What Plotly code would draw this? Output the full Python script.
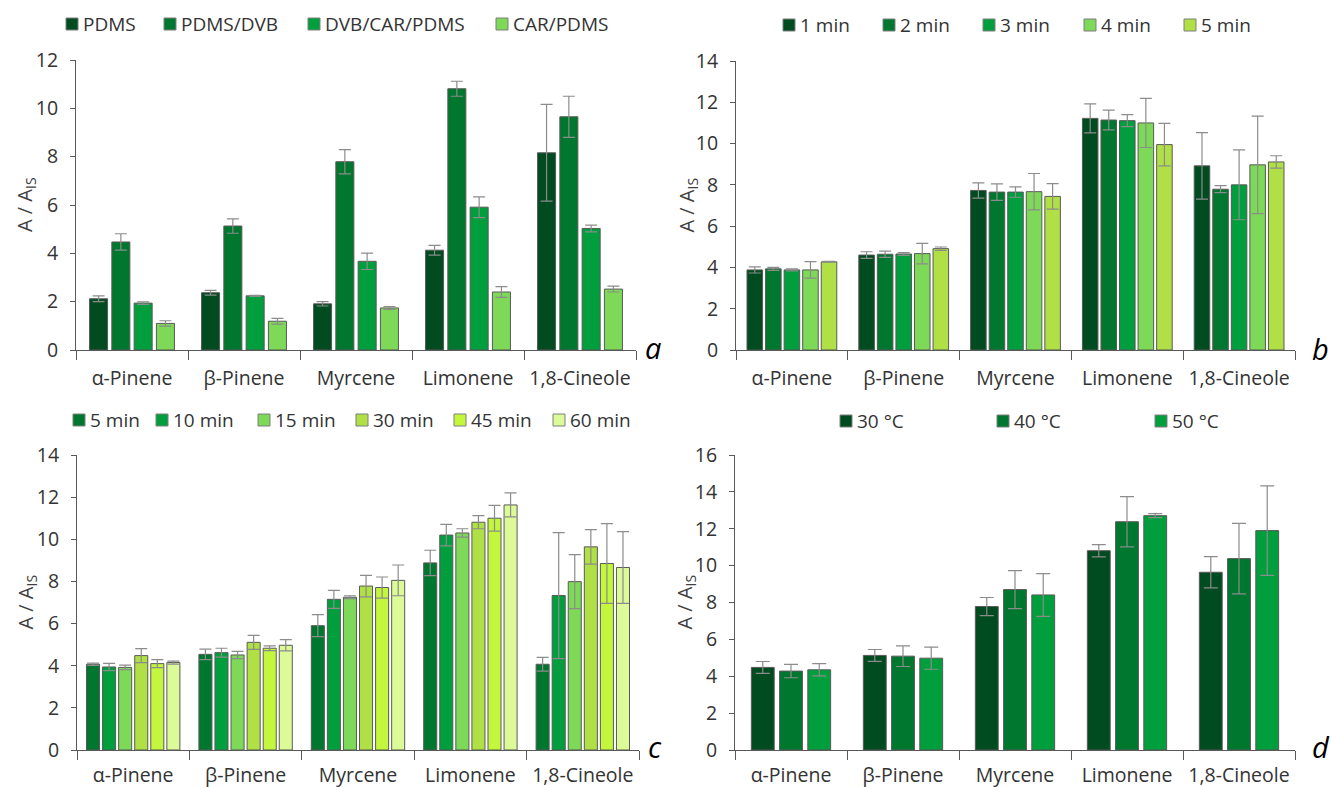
import plotly.graph_objects as go

# ---------------------------------------------------------------- data
compounds = ["α-Pinene", "β-Pinene", "Myrcene", "Limonene", "1,8-Cineole"]

# (a) fibre coating
fibres = ["PDMS", "PDMS/DVB", "DVB/CAR/PDMS", "CAR/PDMS"]
fibre_mean = [
    [2.12, 2.37, 1.91, 4.13, 8.16],
    [4.47, 5.13, 7.79, 10.81, 9.65],
    [1.94, 2.24, 3.67, 5.91, 5.03],
    [1.10, 1.19, 1.74, 2.40, 2.52],
]
fibre_sd = [
    [0.12, 0.10, 0.09, 0.20, 2.00],
    [0.34, 0.30, 0.50, 0.31, 0.85],
    [0.05, 0.02, 0.34, 0.43, 0.14],
    [0.11, 0.12, 0.06, 0.22, 0.12],
]

# (b) equilibration time
equil = ["1 min", "2 min", "3 min", "4 min", "5 min"]
equil_mean = [
    [3.88, 4.60, 7.73, 11.22, 8.92],
    [3.93, 4.64, 7.65, 11.14, 7.79],
    [3.88, 4.65, 7.65, 11.11, 8.00],
    [3.88, 4.67, 7.67, 11.00, 8.97],
    [4.27, 4.91, 7.44, 9.95, 9.11],
]
equil_sd = [
    [0.15, 0.16, 0.37, 0.70, 1.61],
    [0.07, 0.15, 0.40, 0.48, 0.17],
    [0.05, 0.07, 0.25, 0.29, 1.69],
    [0.40, 0.50, 0.88, 1.19, 2.36],
    [0.02, 0.08, 0.62, 1.03, 0.30],
]

# (c) extraction time
extr = ["5 min", "10 min", "15 min", "30 min", "45 min", "60 min"]
extr_mean = [
    [4.07, 4.54, 5.90, 8.88, 4.07],
    [3.94, 4.62, 7.15, 10.20, 7.33],
    [3.92, 4.51, 7.25, 10.30, 7.99],
    [4.48, 5.11, 7.78, 10.81, 9.64],
    [4.10, 4.83, 7.71, 11.00, 8.85],
    [4.15, 4.97, 8.05, 11.63, 8.66],
]
extr_sd = [
    [0.05, 0.25, 0.52, 0.60, 0.33],
    [0.17, 0.21, 0.43, 0.51, 2.99],
    [0.11, 0.17, 0.07, 0.20, 1.28],
    [0.33, 0.33, 0.51, 0.31, 0.82],
    [0.19, 0.11, 0.50, 0.61, 1.89],
    [0.07, 0.27, 0.73, 0.57, 1.70],
]

# (d) extraction temperature
temps = ["30 °C", "40 °C", "50 °C"]
temp_mean = [
    [4.48, 5.13, 7.78, 10.81, 9.64],
    [4.28, 5.09, 8.70, 12.38, 10.38],
    [4.35, 4.98, 8.41, 12.71, 11.90],
]
temp_sd = [
    [0.32, 0.32, 0.49, 0.33, 0.85],
    [0.36, 0.56, 1.03, 1.36, 1.91],
    [0.33, 0.60, 1.16, 0.11, 2.43],
]

y_max = [12, 14, 14, 16]

# ---------------------------------------------------------------- styling
W, H = 1331, 787
FONT = "Open Sans"
TXT = "#333333"
LINE = "#595959"
ERR = "#8c8c8c"
AXIS_FS = 19.5
LEG_FS = 19

C_DARK = "#004b1f"
C_MID = "#00772f"
C_GREEN = "#009e3c"
C_LIGHT = "#7dd957"
C_OLIVE = "#b0e045"
C_LIME = "#c3f63c"
C_PALE = "#dcfa97"

panels = [
    dict(key="", names=fibres, mean=fibre_mean, sd=fibre_sd,
         colors=[C_DARK, C_MID, C_GREEN, C_LIGHT],
         box=(76, 636, 60, 350), slot=0.199, bw=0.161, cap=6, letter="a",
         letter_xy=(653, 347), title_x=26, xstand=11,
         legend_x=[66, 164, 308, 496], legend_y=24),
    dict(key="2", names=equil, mean=equil_mean, sd=equil_sd,
         colors=[C_DARK, C_MID, C_GREEN, C_LIGHT, C_OLIVE],
         box=(736, 1295, 61, 350), slot=0.166, bw=0.139, cap=6, letter="b",
         letter_xy=(1320, 349), title_x=687, xstand=11,
         legend_x=[783, 883, 983, 1084, 1184], legend_y=25),
    dict(key="3", names=extr, mean=extr_mean, sd=extr_sd,
         colors=[C_MID, C_GREEN, C_LIGHT, C_OLIVE, C_LIME, C_PALE],
         box=(77, 639, 455, 750), slot=0.143, bw=0.116, cap=6, letter="c",
         letter_xy=(655, 746), title_x=26, xstand=8,
         legend_x=[73, 156, 258, 356, 454, 553], legend_y=420),
    dict(key="4", names=temps, mean=temp_mean, sd=temp_sd,
         colors=[C_DARK, C_MID, C_GREEN],
         box=(735, 1295, 455, 750), slot=0.252, bw=0.204, cap=7, letter="d",
         letter_xy=(1321, 746), title_x=685, xstand=8,
         legend_x=[840, 997, 1155], legend_y=421),
]


def fx(p):
    return p / W


def fy(p):
    return 1 - p / H


fig = go.Figure()
shapes = []
annotations = []
layout_axes = {}

for i, pnl in enumerate(panels):
    k = pnl["key"]
    n = len(pnl["names"])
    x0, x1, ytop, ybot = pnl["box"]
    for j, name in enumerate(pnl["names"]):
        offset = -n * pnl["slot"] / 2 + j * pnl["slot"] + (pnl["slot"] - pnl["bw"]) / 2
        fig.add_trace(go.Bar(
            x=compounds, y=pnl["mean"][j], name=name,
            xaxis="x" + k, yaxis="y" + k,
            width=pnl["bw"], offset=offset,
            marker=dict(color=pnl["colors"][j], line=dict(color=LINE, width=1)),
            error_y=dict(type="data", array=pnl["sd"][j], symmetric=True,
                         color=ERR, thickness=1.2, width=pnl["cap"]),
            showlegend=False,
        ))

    layout_axes["xaxis" + k] = dict(
        domain=[fx(x0), fx(x1)], anchor="y" + k, type="category",
        range=[-0.5, 4.5], showline=True, linecolor=LINE, linewidth=1,
        ticks="outside", tickson="boundaries", ticklen=9, tickcolor=LINE,
        tickangle=0,
        tickfont=dict(family=FONT, size=AXIS_FS, color=TXT),
        ticklabelstandoff=pnl["xstand"], showgrid=False, zeroline=False,
        fixedrange=True, automargin=False,
    )
    layout_axes["yaxis" + k] = dict(
        domain=[fy(ybot), fy(ytop)], anchor="x" + k,
        range=[0, y_max[i]], dtick=2, showline=True, linecolor=LINE,
        linewidth=1, ticks="outside", ticklen=5, tickcolor=LINE,
        tickfont=dict(family=FONT, size=AXIS_FS, color=TXT),
        ticklabelstandoff=8, showgrid=False, zeroline=False, fixedrange=True,
        automargin=False,
    )

    # axis title
    annotations.append(dict(
        text="A / A<sub>IS</sub>", textangle=-90, showarrow=False,
        xref="paper", yref="paper", x=fx(pnl["title_x"]),
        y=fy((ytop + ybot) / 2), xanchor="center", yanchor="middle",
        font=dict(family=FONT, size=20, color="#404040"),
    ))
    # panel letter
    lx, ly = pnl["letter_xy"]
    annotations.append(dict(
        text="<i>" + pnl["letter"] + "</i>", showarrow=False,
        xref="paper", yref="paper", x=fx(lx), y=fy(ly),
        xanchor="center", yanchor="middle",
        font=dict(family=FONT, size=29, color="#000000"),
    ))
    # legend row
    ly = pnl["legend_y"]
    for j, name in enumerate(pnl["names"]):
        sx = pnl["legend_x"][j]
        shapes.append(dict(
            type="rect", xref="paper", yref="paper",
            x0=fx(sx), x1=fx(sx + 12), y0=fy(ly + 6), y1=fy(ly - 6),
            fillcolor=pnl["colors"][j], line=dict(color="#7f7f7f", width=1),
        ))
        annotations.append(dict(
            text=name, showarrow=False, xref="paper", yref="paper",
            x=fx(sx + 15), y=fy(ly), xanchor="left", yanchor="middle",
            font=dict(family=FONT, size=LEG_FS, color=TXT),
        ))

fig.update_layout(
    template="none",
    width=W, height=H, margin=dict(l=0, r=0, t=0, b=0, pad=0, autoexpand=False),
    paper_bgcolor="white", plot_bgcolor="white",
    showlegend=False, shapes=shapes, annotations=annotations,
    **layout_axes,
)

fig.write_html("out.html", config={"responsive": False})
